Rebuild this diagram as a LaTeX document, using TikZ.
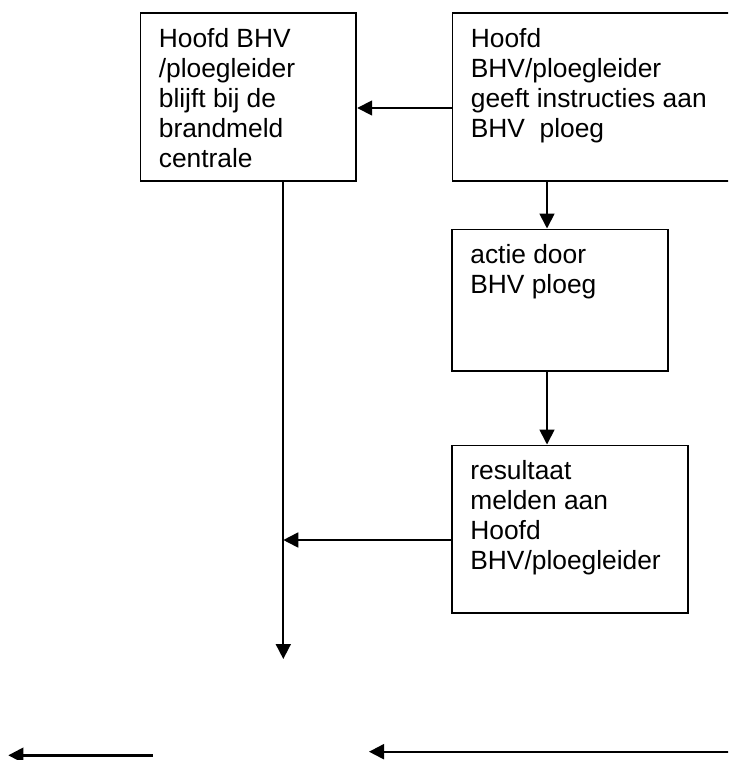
\documentclass[tikz,border=0pt]{standalone}
\usepackage{fontspec}
\setmainfont{Liberation Sans}
\usepackage{tikz}
\usetikzlibrary{arrows.meta, positioning}

\tikzset{
    box/.style={draw, rectangle, line width=1pt, inner sep=0pt, anchor=north west},
    boxtext/.style={anchor=north west, align=left, inner sep=0pt,
        font=\fontsize{15pt}{17.07pt}\selectfont},
    arr/.style={-{Triangle[length=0.3cm, width=0.3cm]}, line width=1pt},
}

\begin{document}
\begin{tikzpicture}[x=0.02cm, y=-0.02cm]
    % 1. Kader van de tekening
    \clip (0,0) rectangle (728,760);

    % 2. Blokken
    \node[box, minimum width=4.32cm, minimum height=3.36cm] (hoofd) at (139.5,12.5) {};
    \node[box, minimum width=5.8cm, minimum height=3.36cm] (instr) at (451.5,12.5) {};
    \node[box, minimum width=4.33cm, minimum height=2.83cm] (actie) at (451,228.5) {};
    \node[box, minimum width=4.73cm, minimum height=3.36cm] (result) at (451,444.5) {};

    % 3. Teksten in de blokken
    \node[boxtext] (hoofdtxt) at ([shift={(19,16)}]hoofd.north west)
        {Hoofd BHV\\/ploegleider\\blijft bij de\\brandmeld\\centrale};
    \node[boxtext] (instrtxt) at ([shift={(19,16)}]instr.north west)
        {Hoofd\\BHV/ploegleider\\geeft instructies aan\\BHV\ \ ploeg};
    \node[boxtext] (actietxt) at ([shift={(19,16)}]actie.north west)
        {actie door\\BHV ploeg};
    \node[boxtext] (resulttxt) at ([shift={(19,16)}]result.north west)
        {resultaat\\melden aan\\Hoofd\\BHV/ploegleider};

    % 4. Hulppunten
    \coordinate (rijA) at (0,108);
    \coordinate (rijB) at (0,540);
    \coordinate (kolom) at (547,0);
    \coordinate (stameinde) at (283.3,659);

    % 5. Pijlen tussen de blokken
    \draw[arr] (instr.west |- rijA) -- (hoofd.east |- rijA);
    \draw[arr] (instr.south -| kolom) -- (actie.north -| kolom);
    \draw[arr] (actie.south -| kolom) -- (result.north -| kolom);
    \draw[arr] (hoofd.south -| stameinde) -- (stameinde);
    \draw[arr] (result.west |- rijB) -- (stameinde |- rijB);

    % 6. Losse pijlen onderaan
    \coordinate (linksbegin) at (152.7,755.3);
    \coordinate (linkseind) at (8.3,755.3);
    \coordinate (rechtsbegin) at (740,751.7);
    \coordinate (rechtseind) at (369,751.7);
    \draw[arr, line width=1.4pt] (linksbegin) -- (linkseind);
    \draw[arr, line width=1.2pt] (rechtsbegin) -- (rechtseind);
\end{tikzpicture}
\end{document}
